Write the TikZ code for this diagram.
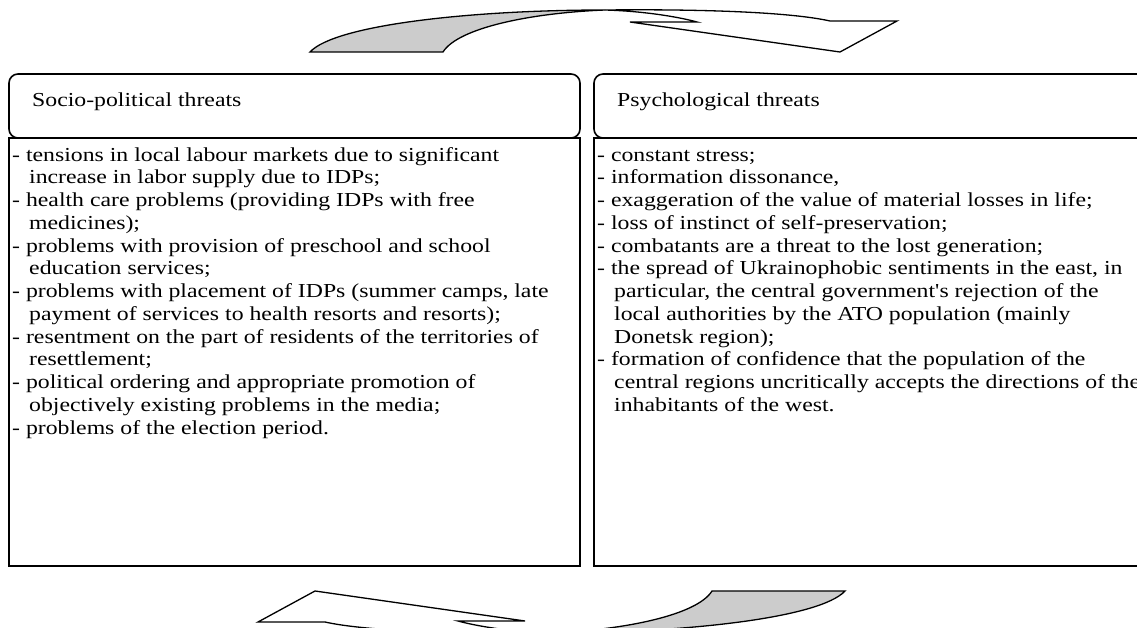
\documentclass[tikz,border=0pt]{standalone}
\usepackage{fontspec}
\setmainfont{Liberation Serif}[FakeStretch=1.2]
\newfontfamily\plainserif{Liberation Serif}[FakeStretch=1.2]
\newcommand\hg{\hspace*{17pt}}
\newcommand\bodyfont{\fontsize{19.8}{22.75}\selectfont}
\newcommand\apos{{\plainserif'}}
\begin{document}
\begin{tikzpicture}[x=1pt,y=-1pt,
  hdr/.style={draw, line width=1.6pt, rounded corners=9pt},
  bodybox/.style={draw, line width=1.6pt},
  txt/.style={anchor=north west, align=left, inner sep=0pt, font=\bodyfont},
  htxt/.style={anchor=base west, inner sep=0pt, font=\bodyfont},
  backface/.style={fill=black!20, draw=black, line width=1.3pt, line join=miter},
  frontface/.style={fill=white, draw=black, line width=1.3pt, line join=miter}]
\useasboundingbox (0,0) rectangle (1137,628);
\clip (0,0) rectangle (1137,628);
% boxes
\draw[bodybox] (9,138) rectangle (580,566);
\draw[bodybox] (594,138) rectangle (1160,566);
\draw[hdr, fill=white] (9,74) rectangle (580,138);
\draw[hdr, fill=white] (594,74) rectangle (1160,138);
% header texts
\node[htxt] (lh) at (32,107) {Socio-political threats};
\node[htxt] (rh) at (617,107) {Psychological threats};
% body texts
\node[txt] (lb) at (12,145) {\strut- tensions in local labour markets due to significant\\
\hg increase in labor supply due to IDPs;\\
- health care problems (providing IDPs with free\\
\hg medicines);\\
- problems with provision of preschool and school\\
\hg education services;\\
- problems with placement of IDPs (summer camps, late\\
\hg payment of services to health resorts and resorts);\\
- resentment on the part of residents of the territories of\\
\hg resettlement;\\
- political ordering and appropriate promotion of\\
\hg objectively existing problems in the media;\\
- problems of the election period.};
\node[txt] (rb) at (597,145) {\strut- constant stress;\\
- information dissonance,\\
- exaggeration of the value of material losses in life;\\
- loss of instinct of self-preservation;\\
- combatants are a threat to the lost generation;\\
- the spread of Ukrainophobic sentiments in the east, in\\
\hg particular, the central government\apos s rejection of the\\
\hg local authorities by the ATO population (mainly\\
\hg Donetsk region);\\
- formation of confidence that the population of the\\
\hg central regions uncritically accepts the directions of the\\
\hg inhabitants of the west.};
% top curved arrow
\path[backface] (310,52) .. controls (335,25) and (470,10) .. (605,10)
  .. controls (530,13) and (458,28) .. (443,52) -- cycle;
\path[frontface] (605,10) .. controls (700,9) and (790,12) .. (830,21)
  -- (897,21) -- (840,52) -- (630,22) -- (697,22)
  .. controls (675,16) and (640,11) .. (605,10) -- cycle;
% bottom curved arrow (same shape turned half round)
\begin{scope}[rotate around={180:(577.5,321.5)}]
\path[backface] (310,52) .. controls (335,25) and (470,10) .. (605,10)
  .. controls (530,13) and (458,28) .. (443,52) -- cycle;
\path[frontface] (605,10) .. controls (700,9) and (790,12) .. (830,21)
  -- (897,21) -- (840,52) -- (630,22) -- (697,22)
  .. controls (675,16) and (640,11) .. (605,10) -- cycle;
\end{scope}
\end{tikzpicture}
\end{document}
